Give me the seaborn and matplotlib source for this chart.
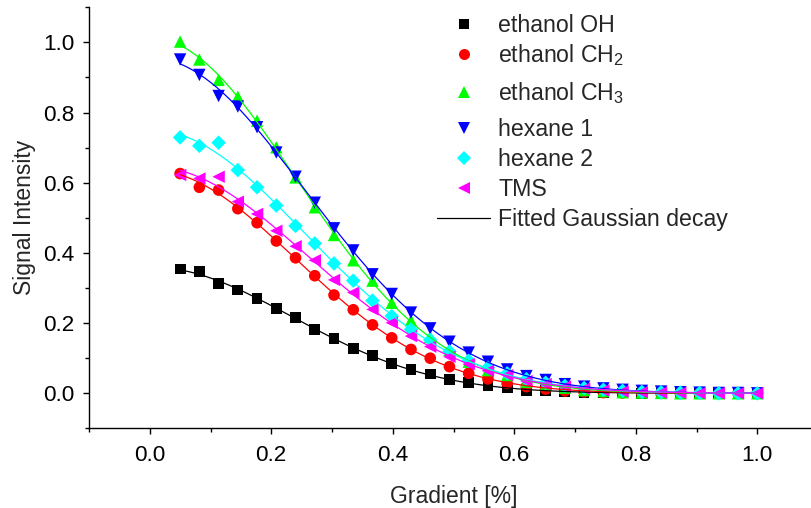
import numpy as np
import pandas as pd
import matplotlib
matplotlib.use("Agg")
import matplotlib.pyplot as plt
from matplotlib.lines import Line2D
from matplotlib.ticker import MultipleLocator
import seaborn as sns

# ---------------- data ----------------
gradient = [0.05 + i * 0.95 / 30 for i in range(31)]

ethanol_oh = [0.354, 0.346, 0.313, 0.294, 0.270, 0.241, 0.215, 0.182, 0.157, 0.127,
              0.107, 0.085, 0.068, 0.055, 0.040, 0.030, 0.021, 0.015, 0.009, 0.007,
              0.004, 0.002, 0.001, 0.001, 0.000, 0.000, 0.000, 0.000, 0.000, 0.000, 0.000]
ethanol_ch2 = [0.626, 0.587, 0.579, 0.526, 0.486, 0.434, 0.386, 0.335, 0.280, 0.238,
               0.195, 0.158, 0.125, 0.100, 0.076, 0.057, 0.041, 0.028, 0.019, 0.012,
               0.007, 0.004, 0.002, 0.001, 0.001, 0.000, 0.000, 0.000, 0.000, 0.000, 0.000]
ethanol_ch3 = [1.002, 0.951, 0.893, 0.845, 0.777, 0.701, 0.615, 0.530, 0.451, 0.379,
               0.321, 0.258, 0.208, 0.161, 0.123, 0.090, 0.066, 0.052, 0.033, 0.024,
               0.016, 0.009, 0.006, 0.003, 0.002, 0.001, 0.000, 0.000, 0.000, 0.000, 0.000]
hexane_1 = [0.951, 0.907, 0.847, 0.817, 0.758, 0.686, 0.617, 0.543, 0.470, 0.407,
            0.339, 0.283, 0.230, 0.185, 0.147, 0.116, 0.090, 0.068, 0.049, 0.038,
            0.026, 0.019, 0.014, 0.010, 0.007, 0.005, 0.003, 0.002, 0.001, 0.001, 0.000]
hexane_2 = [0.729, 0.705, 0.714, 0.636, 0.587, 0.535, 0.477, 0.427, 0.370, 0.321,
            0.264, 0.220, 0.182, 0.152, 0.119, 0.093, 0.073, 0.057, 0.040, 0.030,
            0.021, 0.015, 0.010, 0.007, 0.004, 0.003, 0.002, 0.001, 0.000, 0.000, 0.000]
tms = [0.622, 0.612, 0.617, 0.546, 0.511, 0.463, 0.419, 0.379, 0.323, 0.287,
       0.239, 0.201, 0.163, 0.133, 0.104, 0.083, 0.064, 0.052, 0.035, 0.026,
       0.019, 0.013, 0.008, 0.005, 0.003, 0.002, 0.001, 0.000, 0.000, 0.000, 0.000]

series_names = ["ethanol OH", "ethanol CH2", "ethanol CH3", "hexane 1", "hexane 2", "TMS"]
series_values = [ethanol_oh, ethanol_ch2, ethanol_ch3, hexane_1, hexane_2, tms]
legend_labels = ["ethanol OH", "ethanol CH$_2$", "ethanol CH$_3$", "hexane 1", "hexane 2", "TMS"]
fit_label = "Fitted Gaussian decay"
x_label = "Gradient [%]"
y_label = "Signal Intensity"

colors = {"ethanol OH": "#000000", "ethanol CH2": "#FF0000", "ethanol CH3": "#00FF00",
          "hexane 1": "#0000FF", "hexane 2": "#00FFFF", "TMS": "#FF00FF"}
markers = {"ethanol OH": "s", "ethanol CH2": "o", "ethanol CH3": "^",
           "hexane 1": "v", "hexane 2": "D", "TMS": "<"}
msizes = {"ethanol OH": 60, "ethanol CH2": 70, "ethanol CH3": 80,
          "hexane 1": 80, "hexane 2": 55, "TMS": 80}

# ---------------- tidy tables ----------------
pts = pd.DataFrame({
    "x": np.tile(gradient, len(series_names)),
    "y": np.concatenate(series_values),
    "series": np.repeat(series_names, len(gradient)),
})

# least-squares Gaussian decay fit y = A*exp(-k x^2) to each series
xg = np.asarray(gradient)
x_dense = np.linspace(min(gradient), max(gradient), 300)
fit_rows = []
for name, vals in zip(series_names, series_values):
    yv = np.asarray(vals)
    best = None
    for k in np.linspace(0.5, 30, 6000):
        f = np.exp(-k * xg ** 2)
        A = (yv @ f) / (f @ f)
        r = ((yv - A * f) ** 2).sum()
        if best is None or r < best[0]:
            best = (r, A, k)
    _, A, k = best
    fit_rows.append(pd.DataFrame({"x": x_dense, "y": A * np.exp(-k * x_dense ** 2),
                                  "series": name}))
fits = pd.concat(fit_rows, ignore_index=True)

# ---------------- plotting ----------------
sns.set_style("ticks")
plt.rcParams["font.family"] = ["Liberation Sans", "DejaVu Sans"]
plt.rcParams["mathtext.default"] = "regular"

fig = plt.figure(figsize=(8.12, 5.08), dpi=100)
ax = fig.add_axes([89 / 812, (508 - 428.4) / 508, (818 - 89) / 812, (428.4 - 7.2) / 508])

for name in series_names:
    sub = pts[pts["series"] == name]
    sns.scatterplot(data=sub, x="x", y="y", ax=ax, color=colors[name],
                    marker=markers[name], s=msizes[name], linewidth=0,
                    edgecolor="none", legend=False, zorder=3)
    fsub = fits[fits["series"] == name]
    sns.lineplot(data=fsub, x="x", y="y", ax=ax, color=colors[name],
                 linewidth=0.9, estimator=None, sort=False, legend=False, zorder=4)

ax.set_xlim(-0.1, 1.1)
ax.set_ylim(-0.1, 1.1)
ax.xaxis.set_major_locator(MultipleLocator(0.2))
ax.xaxis.set_minor_locator(MultipleLocator(0.1))
ax.yaxis.set_major_locator(MultipleLocator(0.2))
ax.yaxis.set_minor_locator(MultipleLocator(0.1))
ax.xaxis.set_major_formatter(matplotlib.ticker.FormatStrFormatter("%.1f"))
ax.yaxis.set_major_formatter(matplotlib.ticker.FormatStrFormatter("%.1f"))
ax.tick_params(which="major", direction="out", length=4.3, width=1.0, labelsize=16.2,
               color="black", labelcolor="black")
ax.tick_params(axis="y", which="major", pad=6)
ax.tick_params(axis="x", which="major", pad=8)
ax.tick_params(which="minor", direction="out", length=2.6, width=1.0, color="black")
for s in ["top", "right"]:
    ax.spines[s].set_visible(False)
for s in ["left", "bottom"]:
    ax.spines[s].set_linewidth(1.0)
    ax.spines[s].set_color("black")

ax.set_xlabel(x_label, fontsize=16.5, labelpad=13)
ax.set_ylabel(y_label, fontsize=16.5, labelpad=5)

handles = []
for name in series_names:
    handles.append(Line2D([], [], linestyle="none", marker=markers[name],
                          color=colors[name], markersize=np.sqrt(msizes[name]) * 0.95,
                          markeredgewidth=0))
handles.append(Line2D([], [], color="black", linewidth=0.9))
labels = legend_labels + [fit_label]

leg_kw = dict(loc="upper left", frameon=False, fontsize=16.7, handlelength=2.3,
              handletextpad=0.35, borderpad=0, borderaxespad=0)
# subscripted labels take more room, so the legend is split into blocks
fig.legend(handles[:2], labels[:2], bbox_to_anchor=(437 / 812, 1 - 14 / 508),
           labelspacing=0.22, **leg_kw)
fig.legend(handles[2:3], labels[2:3], bbox_to_anchor=(437 / 812, 1 - 80 / 508),
           labelspacing=0.3, **leg_kw)
fig.legend(handles[3:], labels[3:], bbox_to_anchor=(437 / 812, 1 - 118 / 508),
           labelspacing=0.3, **leg_kw)

fig.savefig("out.png", dpi=100)
